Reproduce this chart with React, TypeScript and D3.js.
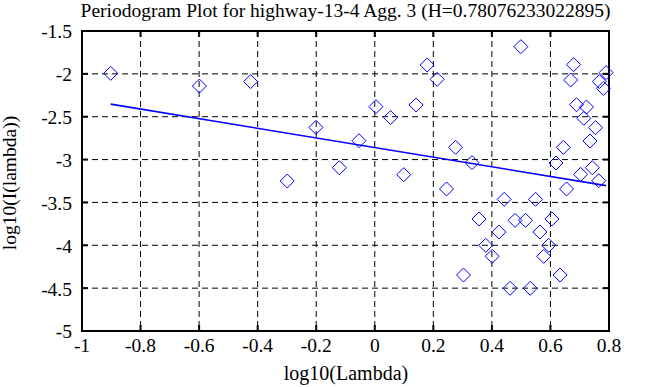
import React from "react";
import * as d3 from "d3";

const TITLE = "Periodogram Plot for highway-13-4 Agg. 3 (H=0.78076233022895)";
const X_LABEL = "log10(Lambda)";
const Y_LABEL = "log10(I(lambda))";
const xTicks = [-1, -0.8, -0.6, -0.4, -0.2, 0, 0.2, 0.4, 0.6, 0.8];
const yTicks = [-5, -4.5, -4, -3.5, -3, -2.5, -2, -1.5];

const logLambda = [
  -0.902, -0.599, -0.424, -0.201, -0.299, -0.121, -0.054, 0.004, 0.054, 0.141,
  0.099, 0.179, 0.213, 0.276, 0.332, 0.245, 0.499, 0.679, 0.669, 0.689,
  0.723, 0.714, 0.754, 0.735, 0.644, 0.619, 0.790, 0.767, 0.781, 0.743,
  0.703, 0.765, 0.655, 0.442, 0.549, 0.356, 0.479, 0.515, 0.605, 0.424,
  0.564, 0.379, 0.401, 0.594, 0.577, 0.303, 0.633, 0.462, 0.531,
];
const logI = [
  -1.994, -2.142, -2.09, -2.624, -3.25, -3.095, -2.78, -2.383, -2.51, -2.363,
  -3.176, -1.897, -2.064, -2.857, -3.036, -3.343, -1.683, -1.893, -2.072, -2.36,
  -2.387, -2.519, -2.628, -2.783, -2.857, -3.04, -1.986, -2.09, -2.169, -3.095,
  -3.172, -3.246, -3.343, -3.464, -3.464, -3.693, -3.709, -3.709, -3.693, -3.845,
  -3.845, -4.0, -4.129, -4.0, -4.129, -4.347, -4.347, -4.502, -4.502,
];

const H = 0.78076233022895;
const slope = 1 - 2 * H;
const intercept = -2.86;

export default function App() {
  const W = 658, Ht = 387;
  const left = 82, right = 609, top = 31, bottom = 331;
  const x = d3.scaleLinear().domain([-1, 0.8]).range([left, right]);
  const y = d3.scaleLinear().domain([-5, -1.5]).range([bottom, top]);
  const xmin = d3.min(logLambda) as number;
  const xmax = d3.max(logLambda) as number;
  const line = d3.line<number>().x((d) => x(d)).y((d) => y(intercept + slope * d));
  const font = "'Liberation Serif', 'DejaVu Serif', serif";
  const r = 7;
  const diamond = (cx: number, cy: number) =>
    `M${cx},${cy - r}L${cx + r},${cy}L${cx},${cy + r}L${cx - r},${cy}Z`;

  return (
    <svg width={W} height={Ht} style={{ position: "absolute", left: 0, top: 0, background: "#fff" }}>
      <rect x={0} y={0} width={W} height={Ht} fill="#fff" />
      {xTicks.slice(1, -1).map((t) => (
        <line key={"gx" + t} x1={x(t)} x2={x(t)} y1={top} y2={bottom} stroke="#000" strokeWidth={1} strokeDasharray="6,4" />
      ))}
      {yTicks.slice(1, -1).map((t) => (
        <line key={"gy" + t} x1={left} x2={right} y1={y(t)} y2={y(t)} stroke="#000" strokeWidth={1} strokeDasharray="6,4" />
      ))}
      {xTicks.map((t) => (
        <g key={"tx" + t}>
          <line x1={x(t)} x2={x(t)} y1={bottom} y2={bottom - 6} stroke="#000" strokeWidth={2} />
          <line x1={x(t)} x2={x(t)} y1={top} y2={top + 6} stroke="#000" strokeWidth={2} />
          <text x={x(t)} y={352} textAnchor="middle" fontFamily={font} fontSize={19.5} fill="#000">
            {String(t)}
          </text>
        </g>
      ))}
      {yTicks.map((t) => (
        <g key={"ty" + t}>
          <line x1={left} x2={left + 6} y1={y(t)} y2={y(t)} stroke="#000" strokeWidth={2} />
          <line x1={right} x2={right - 6} y1={y(t)} y2={y(t)} stroke="#000" strokeWidth={2} />
          <text x={72} y={y(t)} dy="0.38em" textAnchor="end" fontFamily={font} fontSize={19.5} fill="#000">
            {String(t)}
          </text>
        </g>
      ))}
      <rect x={left} y={top} width={right - left} height={bottom - top} fill="none" stroke="#000" strokeWidth={2} />
      {logLambda.map((v, i) => (
        <path key={"p" + i} d={diamond(x(v), y(logI[i]))} fill="none" stroke="#0000ff" strokeWidth={1} />
      ))}
      <path d={line([xmin, xmax]) || ""} fill="none" stroke="#0000ff" strokeWidth={1.6} />
      <text x={(left + right) / 2} y={17} textAnchor="middle" fontFamily={font} fontSize={19.5} fill="#000">
        {TITLE}
      </text>
      <text x={346} y={380} textAnchor="middle" fontFamily={font} fontSize={20} fill="#000">
        {X_LABEL}
      </text>
      <text transform={`translate(15.5,183) rotate(-90)`} textAnchor="middle" fontFamily={font} fontSize={19.5} fill="#000">
        {Y_LABEL}
      </text>
    </svg>
  );
}
